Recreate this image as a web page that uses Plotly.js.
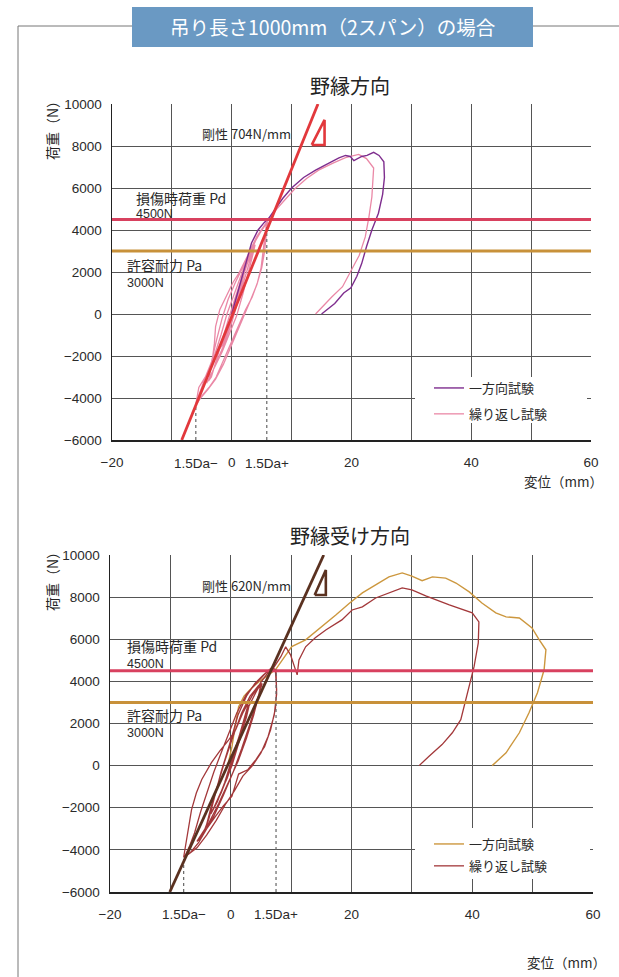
<!DOCTYPE html>
<html><head><meta charset="utf-8">
<script src="https://cdn.plot.ly/plotly-3.0.1.min.js"></script>
<style>html,body{margin:0;padding:0;background:#fff;}#chart{width:619px;height:977px;}</style>
</head><body><div id="chart"></div>
<script>
// ---------- data ----------
const xTickVals = [-20,-10,0,10,20,30,40,50,60];
const xTickText = ['−20','','0','','20','','40','','60'];
const yTickVals = [-6000,-4000,-2000,0,2000,4000,6000,8000,10000];
const seriesNames = ['一方向試験','繰り返し試験'];

// top: 野縁方向
const topMonoX = [0,0.6,1.5,2.4,3.3,4.4,5.4,6.2,7.2,8.5,10.0,12.0,14.0,16.0,17.9,19.0,19.8,20.4,21.0,21.7,22.6,23.7,24.6,25.4,25.5,25.2,24.5,23.4,22.5,21.7,20.9,19.9,18.7,17.2,15.0];
const topMonoY = [0,600,1500,2500,3380,4000,4350,4570,5000,5500,6000,6500,6850,7150,7430,7550,7500,7300,7400,7500,7550,7700,7550,7250,6500,5700,4800,4000,3200,2400,1800,1250,1000,500,0];
const topCycX = [0,0.6,1.2,1.8,2.2,1.9,1.3,0.6,-0.2,-1.0,-1.8,-2.1,-1.6,-0.9,-0.2,0.6,1.4,2.2,2.0,1.2,0.3,-0.6,-1.5,-2.0,-1.2,-0.3,
 0.6,1.6,2.6,3.4,3.9,3.5,2.8,1.9,0.8,-0.4,-1.6,-2.8,-3.8,-4.2,-3.7,-3.6,-2.8,-1.8,-0.8,0.3,1.5,2.7,3.8,3.3,2.3,1.1,-0.2,-1.5,-2.8,-3.9,-3.4,-2.6,
 -1.6,-0.6,0.5,1.6,2.8,4.0,5.0,5.8,5.6,5.3,4.9,4.3,3.4,2.3,1.2,0,-1.2,-2.6,-3.8,-5.0,-6.0,-5.5,-4.2,-3.3,-2.9,-2.7,-2.0,-1.0,0.2,1.2,2.3,3.4,4.8,5.8,6.0,5.8,5.5,5.0,4.2,3.2,2.2,1.0,-0.2,-1.4,-2.7,-4.0,-5.2,-5.9,-5.4,-4.4,-3.4,-2.5,-1.6,-0.6,0.6,1.8,3.0,4.2,5.4,6.0,
 7.5,9.0,10.5,12.5,14.5,17.0,19.0,21.2,22.5,23.7,23.4,22.9,22.3,21.3,20.0,18.5,16.7,14.0];
const topCycY = [0,600,1300,1900,2300,1900,1100,300,-500,-1100,-1500,-1700,-1500,-1000,-300,500,1300,2100,1800,900,0,-700,-1300,-1600,-1100,-300,
 500,1500,2400,3000,3300,2800,2000,1000,-100,-1000,-1800,-2500,-3100,-3300,-3000,-2600,-1900,-1000,0,900,1800,2700,3300,2800,1800,600,-600,-1600,-2500,-3200,-3000,-2200,
 -1300,-300,700,1700,2700,3500,4000,4300,3800,3000,2200,1500,800,200,-500,-1300,-2100,-3000,-3500,-3900,-4300,-3500,-2900,-2300,-1400,-600,200,800,1500,1950,2600,3200,3900,4300,4400,3900,3000,2200,1400,700,0,-800,-1600,-2400,-3100,-3600,-4000,-4300,-3800,-3000,-2300,-1200,-200,700,1500,2200,3000,3700,4200,4450,
 5000,5500,5950,6450,6850,7200,7450,7600,7400,6950,5570,4600,3670,2800,2100,1300,810,0];
const topStiffX = [-8.35,14.4];
const topStiffY = [-6000,10000];
const topDaMinus = -6.0, topDaPlus = 5.85;
const topDaMinusY = -4300, topDaPlusY = 4200;
const topTriX = [13.36,15.5,15.5];
const topTriY = [8050,9240,8050];

// bottom: 野縁受け方向
const botMonoX = [-0.5,0.2,0.8,1.3,2.2,3.5,5.0,6.4,7.4,8.5,10.1,12.4,15.1,17.4,19.6,21.8,24.0,26.2,28.4,30.0,31.7,33.4,35.6,37.3,39.5,41.6,43.9,45.6,47.8,49.9,51.1,52.2,51.9,50.8,49.4,47.8,45.6,43.3];
const botMonoY = [0,900,2000,2800,3300,3700,4050,4350,4550,5000,5650,5970,6600,7150,7700,8200,8580,8960,9150,9000,8780,8960,8900,8670,8250,7720,7250,7060,7010,6540,5970,5500,4550,3460,2510,1560,610,0];
const botCycX = [0,0.8,1.6,2.4,2.9,2.4,1.6,0.6,-0.6,-1.8,-2.8,-3.2,-2.6,-1.6,-0.4,0.8,2.0,3.0,2.6,1.4,0.2,-1.2,-2.4,-3.3,-2.2,-1.0,
 0.2,1.4,2.8,4.2,5.0,4.6,3.8,2.6,1.2,-0.4,-2.0,-3.6,-5.0,-5.6,-4.8,-4.0,-3.2,-2.2,-1.0,0.4,1.8,3.2,4.6,5.2,4.4,3.2,1.8,0.4,-1.2,-2.8,-4.4,-5.4,-4.6,-3.6,
 -2.6,-1.6,-0.2,1.2,2.6,4.0,5.4,6.8,7.4,7.6,7.4,6.6,5.6,4.2,2.8,1.3,0.2,-1.2,-2.5,-4.0,-5.3,-6.6,-7.8,-7.4,-6.9,-6.5,-5.7,-4.8,-3.2,-1.8,-0.3,0.8,2.0,3.5,5.1,6.8,7.5,7.6,7.2,6.2,5.0,3.6,2.0,0.6,-0.8,-2.4,-4.0,-5.6,-7.0,-7.6,-6.8,-6.0,-5.0,-4.0,-2.8,-1.6,-0.4,1.0,2.6,4.2,5.8,7.1,
 8.3,9.1,9.9,11.0,11.3,12.4,14.0,15.8,18.4,20.1,21.8,24.0,26.2,28.4,30.0,32.3,36.2,40.0,41.1,41.0,40.3,39.5,38.1,36.7,35.0,32.8,31.2];
const botCycY = [0,800,1700,2500,2900,2300,1400,400,-600,-1400,-2000,-2200,-1900,-1300,-400,700,1800,2800,2300,1100,0,-1000,-1800,-2300,-1700,-800,
 300,1500,2700,3500,3900,3300,2400,1300,200,-800,-1800,-2700,-3300,-3600,-3400,-2800,-1900,-900,200,1400,2500,3300,3800,3900,3100,2000,800,-300,-1400,-2400,-3200,-3500,-3300,-2500,
 -1400,-300,1000,2400,3300,3900,4300,4650,4500,3600,2700,1700,900,300,-200,-400,-1450,-1900,-2400,-3000,-3650,-4100,-4350,-3600,-2800,-2100,-1300,-660,140,700,1230,1700,2500,3300,4000,4650,4550,3400,2400,1400,600,0,-500,-1200,-1800,-2600,-3300,-3900,-4200,-4300,-3800,-3200,-2200,-1300,-300,600,1500,2500,3400,3900,4400,4650,
 5170,5640,5260,4310,5020,5640,6070,6450,6920,7390,7540,7960,8200,8440,8340,8060,7630,7250,6820,5830,4700,3750,2180,1560,1000,430,0];
const botStiffX = [-10.1,15.4];
const botStiffY = [-6000,10000];
const botDaMinus = -7.8, botDaPlus = 7.5;
const botDaMinusY = -4350, botDaPlusY = 4550;
const botTriX = [13.9,15.75,15.75];
const botTriY = [8100,9290,8100];

const PdVal = 4500, PaVal = 3000;
const xSpan = [-20,60];

// ---------- layout helpers ----------
const W = 619, H = 977;
const px = v => v / W;
const py = v => 1 - v / H;
const JP = 'Noto Sans CJK JP, Liberation Sans, sans-serif';
const NUM = 'Liberation Sans, Noto Sans CJK JP, sans-serif';
const C = {
  purple:'#7e2d8e', pink:'#ea88a6', red:'#e2383c', pd:'#d8415f', pa:'#c8913a',
  gold:'#cc973e', dred:'#a3383a', brown:'#5a3120', grid:'#555', text:'#2a2a2a', dot:'#666'
};

function refLines(xa, ya, stX, stY, stColor, daM, daMY, daP, daPY, triX, triY) {
  const t = [];
  const base = {xaxis:xa, yaxis:ya, mode:'lines', hoverinfo:'skip', showlegend:false};
  t.push(Object.assign({}, base, {x:xSpan, y:[PaVal,PaVal], line:{color:C.pa, width:3}}));
  t.push(Object.assign({}, base, {x:xSpan, y:[PdVal,PdVal], line:{color:C.pd, width:3}}));
  t.push(Object.assign({}, base, {x:[daM,daM], y:[-6000,daMY], line:{color:C.dot, width:1.2, dash:'dot'}}));
  t.push(Object.assign({}, base, {x:[daP,daP], y:[-6000,daPY], line:{color:C.dot, width:1.2, dash:'dot'}}));
  t.push(Object.assign({}, base, {x:stX, y:stY, line:{color:stColor, width:2.8}}));
  t.push(Object.assign({}, base, {x:triX.concat([triX[0]]), y:triY.concat([triY[0]]), line:{color:stColor, width:2.6}}));
  return t;
}

const traces = [];
// top
traces.push({x:topCycX, y:topCycY, xaxis:'x', yaxis:'y', mode:'lines', name:seriesNames[1], line:{color:C.pink, width:1.3}, legend:'legend', legendrank:2, legendgroup:'a2'});
traces.push({x:topMonoX, y:topMonoY, xaxis:'x', yaxis:'y', mode:'lines', name:seriesNames[0], line:{color:C.purple, width:1.4}, legend:'legend', legendrank:1, legendgroup:'a1'});
traces.push(...refLines('x','y',topStiffX,topStiffY,C.red,topDaMinus,topDaMinusY,topDaPlus,topDaPlusY,topTriX,topTriY));
// bottom
traces.push({x:botMonoX, y:botMonoY, xaxis:'x2', yaxis:'y2', mode:'lines', name:seriesNames[0], line:{color:C.gold, width:1.4}, legend:'legend2', legendrank:1, legendgroup:'b1'});
traces.push({x:botCycX, y:botCycY, xaxis:'x2', yaxis:'y2', mode:'lines', name:seriesNames[1], line:{color:C.dred, width:1.3}, legend:'legend2', legendrank:2, legendgroup:'b2'});
traces.push(...refLines('x2','y2',botStiffX,botStiffY,C.brown,botDaMinus,botDaMinusY,botDaPlus,botDaPlusY,botTriX,botTriY));

function xAxis(dom, anchor) {
  return {domain:dom, anchor:anchor, range:xSpan, tickvals:xTickVals, ticktext:xTickText,
    showgrid:true, gridcolor:C.grid, gridwidth:1, zeroline:false, showline:true, linecolor:'#222', linewidth:1.5,
    ticks:'', ticklabelstandoff:9, tickfont:{family:NUM, size:13.5, color:C.text}, fixedrange:true};
}
function yAxis(dom, anchor) {
  return {domain:dom, anchor:anchor, range:[-6000,10000], tickvals:yTickVals, tickformat:'d',
    showgrid:true, gridcolor:C.grid, gridwidth:1, zeroline:false, showline:true, linecolor:'#222', linewidth:1.5,
    ticks:'', ticklabelstandoff:6, tickfont:{family:NUM, size:13.5, color:C.text}, fixedrange:true};
}

function legendCfg(x, y, gap) {
  return {x:px(x), y:py(y), xanchor:'left', yanchor:'top', bgcolor:'rgba(255,255,255,0)', borderwidth:0,
    font:{family:JP, size:13, color:C.text}, traceorder:'grouped', tracegroupgap:gap, itemwidth:30};
}

function txt(x, y, text, opts) {
  return Object.assign({xref:'paper', yref:'paper', x:px(x), y:py(y), text:text, showarrow:false,
    xanchor:'left', yanchor:'middle', font:{family:JP, size:12.5, color:C.text}}, opts || {});
}

const annotations = [
  // header
  txt(332, 27, '吊り長さ1000mm（2スパン）の場合', {xanchor:'center', font:{family:JP, size:19.5, color:'#fff'}}),
  // titles
  txt(350, 85, '野縁方向', {xanchor:'center', font:{family:JP, size:20, color:'#222'}}),
  txt(350, 535, '野縁受け方向', {xanchor:'center', font:{family:JP, size:20, color:'#222'}}),
  // y titles
  txt(52, 92, '荷重（N）', {xanchor:'center', yanchor:'top', textangle:-90, font:{family:JP, size:14, color:'#222'}}),
  txt(52, 543, '荷重（N）', {xanchor:'center', yanchor:'top', textangle:-90, font:{family:JP, size:14, color:'#222'}}),
  // x titles
  txt(563, 481, '変位（mm）', {xanchor:'center', font:{family:JP, size:13.5, color:C.text}}),
  txt(566, 962, '変位（mm）', {xanchor:'center', font:{family:JP, size:13.5, color:C.text}}),
  // top labels
  txt(200, 133, '剛性 704N/mm', {font:{family:JP, size:13, color:C.text}}),
  txt(134, 198, '損傷時荷重 Pd', {font:{family:JP, size:14, color:C.text}}),
  txt(134, 214, '4500N', {font:{family:NUM, size:12.5, color:C.text}}),
  txt(125, 265, '許容耐力 Pa', {font:{family:JP, size:14, color:C.text}}),
  txt(125, 283, '3000N', {font:{family:NUM, size:12.5, color:C.text}}),
  // bottom labels
  txt(200, 585, '剛性 620N/mm', {font:{family:JP, size:13, color:C.text}}),
  txt(125, 646, '損傷時荷重 Pd', {font:{family:JP, size:14, color:C.text}}),
  txt(125, 664, '4500N', {font:{family:NUM, size:12.5, color:C.text}}),
  txt(125, 715, '許容耐力 Pa', {font:{family:JP, size:14, color:C.text}}),
  txt(125, 733, '3000N', {font:{family:NUM, size:12.5, color:C.text}}),
  // Da labels
  {xref:'x', yref:'paper', x:topDaMinus, y:py(463), text:'1.5Da−', showarrow:false, xanchor:'center', yanchor:'middle', font:{family:NUM, size:13.5, color:C.text}},
  {xref:'x', yref:'paper', x:topDaPlus, y:py(463), text:'1.5Da+', showarrow:false, xanchor:'center', yanchor:'middle', font:{family:NUM, size:13.5, color:C.text}},
  {xref:'x2', yref:'paper', x:botDaMinus, y:py(914), text:'1.5Da−', showarrow:false, xanchor:'center', yanchor:'middle', font:{family:NUM, size:13.5, color:C.text}},
  {xref:'x2', yref:'paper', x:botDaPlus, y:py(914), text:'1.5Da+', showarrow:false, xanchor:'center', yanchor:'middle', font:{family:NUM, size:13.5, color:C.text}}
];

const shapes = [
  // frame
  {type:'line', xref:'paper', yref:'paper', x0:px(18), x1:px(18), y0:py(26), y1:0, line:{color:'#777', width:1}},
  {type:'line', xref:'paper', yref:'paper', x0:px(18), x1:px(132), y0:py(26), y1:py(26), line:{color:'#777', width:1}},
  {type:'line', xref:'paper', yref:'paper', x0:px(533), x1:1, y0:py(26), y1:py(26), line:{color:'#777', width:1}},
  // header box
  {type:'rect', xref:'paper', yref:'paper', x0:px(132), x1:px(533), y0:py(47), y1:py(7), fillcolor:'#6a99c3', line:{width:0}, layer:'below'},
  // legend backgrounds (hide grid behind legends)
  {type:'rect', xref:'paper', yref:'paper', x0:px(415), x1:px(587), y0:py(423), y1:py(377), fillcolor:'#fff', line:{width:0}, layer:'above'},
  {type:'rect', xref:'paper', yref:'paper', x0:px(415), x1:px(590), y0:py(879), y1:py(828), fillcolor:'#fff', line:{width:0}, layer:'above'}
];

const layout = {
  width:W, height:H, margin:{l:0,r:0,t:0,b:0}, paper_bgcolor:'#fff', plot_bgcolor:'#fff',
  font:{family:JP, color:C.text},
  xaxis:xAxis([px(112), px(591)], 'y'),
  yaxis:yAxis([py(440), py(104)], 'x'),
  xaxis2:xAxis([px(110), px(593)], 'y2'),
  yaxis2:yAxis([py(892), py(555)], 'x2'),
  legend:legendCfg(429, 373, 6),
  legend2:legendCfg(429, 829, 2),
  showlegend:true,
  annotations:annotations, shapes:shapes
};

Plotly.newPlot('chart', traces, layout, {displayModeBar:false, staticPlot:true});
</script></body></html>
